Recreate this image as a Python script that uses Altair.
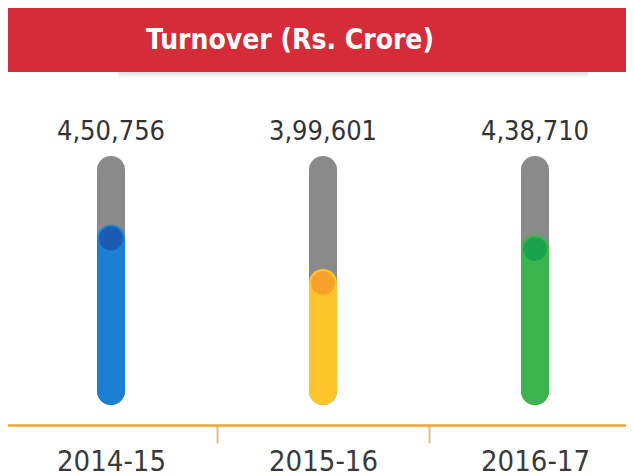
import altair as alt
import pandas as pd

years = ["2014-15", "2015-16", "2016-17"]
turnover = [450756, 399601, 438710]
labels = ["4,50,756", "3,99,601", "4,38,710"]
bar_colors = ["#1b80d2", "#fcc62b", "#3bb54b"]
dot_colors = ["#1d5bb3", "#f8a12a", "#19a24c"]
track_min = 275000
track_max = 530000
title = "Turnover (Rs. Crore)"

FONT = "Liberation Sans Narrow, DejaVu Sans Condensed, Roboto, sans-serif"

df = pd.DataFrame({
    "year": years,
    "value": turnover,
    "label": labels,
    "bar": bar_colors,
    "dot": dot_colors,
    "lo": [track_min] * 3,
    "hi": [track_max] * 3,
})

W, H = 618, 417

xenc = alt.X(
    "year:N",
    sort=years,
    scale=alt.Scale(range=[-3, 633], paddingInner=0, paddingOuter=0),
    axis=alt.Axis(
        title=None,
        domainColor="#f5a52c",
        domainWidth=2.5,
        tickBand="extent",
        tickColor="#e0bf8e",
        tickWidth=2,
        tickSize=18,
        labelAngle=0,
        labelFont=FONT,
        labelFontSize=29,
        labelColor="#3a3a3a",
        labelPadding=4,
        grid=False,
    ),
)
yscale = alt.Scale(domain=[track_min, track_max], range=[383, 162])

base = alt.Chart(df)

track = base.mark_rule(strokeWidth=28, strokeCap="round", color="#8a8a8a").encode(
    x=xenc,
    y=alt.Y("lo:Q", scale=yscale, axis=None),
    y2="hi:Q",
)
fill = base.mark_rule(strokeWidth=28, strokeCap="round").encode(
    x=xenc,
    y=alt.Y("lo:Q", scale=yscale, axis=None),
    y2="value:Q",
    color=alt.Color("bar:N", scale=None),
)
dots = base.mark_circle(size=560, opacity=1).encode(
    x=xenc,
    y=alt.Y("value:Q", scale=yscale, axis=None),
    color=alt.Color("dot:N", scale=None),
)
vals = base.mark_text(font=FONT, fontSize=27, color="#333333", baseline="middle", dy=-38).encode(
    x=xenc,
    y=alt.Y("hi:Q", scale=yscale, axis=None),
    text="label:N",
)

banner_df = pd.DataFrame({"t": [title]})
banner = alt.Chart(banner_df).mark_rect(color="#d62b38").encode(
    x=alt.value(-2), x2=alt.value(W + 2), y=alt.value(-1), y2=alt.value(64)
)
shadow = alt.Chart(banner_df).mark_rect(
    color=alt.Gradient(
        gradient="linear",
        stops=[alt.GradientStop(color="#b5b5b5", offset=0), alt.GradientStop(color="#ffffff", offset=1)],
        x1=0, x2=0, y1=0, y2=1,
    ),
    opacity=0.45,
).encode(x=alt.value(110), x2=alt.value(580), y=alt.value(64), y2=alt.value(70))
banner_text = alt.Chart(banner_df).mark_text(
    font=FONT, fontSize=28, fontWeight="bold", color="white", baseline="middle"
).encode(x=alt.value(282), y=alt.value(33), text="t:N")

chart = alt.layer(shadow, banner, banner_text, track, fill, dots, vals).properties(
    width=W,
    height=H,
    autosize=alt.AutoSizeParams(type="none"),
    padding={"left": 0, "top": 0, "right": 0, "bottom": 51},
).configure_view(stroke=None)

chart.save("out.html", embed_options={"renderer": "svg", "actions": False})
